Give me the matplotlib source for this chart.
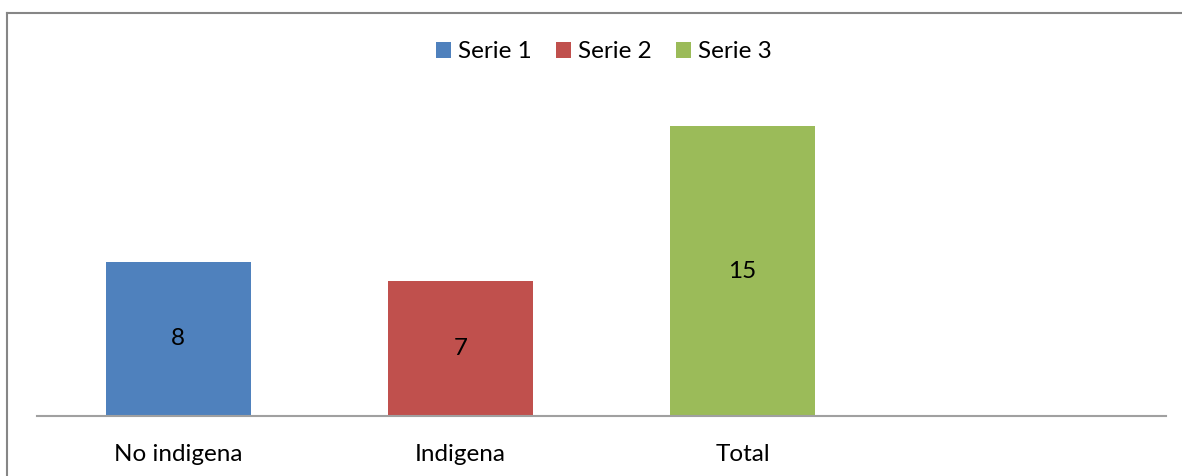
import matplotlib
matplotlib.use('Agg')
import matplotlib.pyplot as plt
from matplotlib.patches import Patch
from matplotlib.lines import Line2D

categories = ['No indigena', 'Indigena', 'Total', '']
series_names = ['Serie 1', 'Serie 2', 'Serie 3']
values = [8, 7, 15]
colors = ['#4f81bd', '#c0504d', '#9bbb59']

plt.rcParams['font.family'] = ['Lato', 'DejaVu Sans']
fs = 17.5

W, H = 1182, 476
fig = plt.figure(figsize=(W / 100, H / 100), dpi=100)
ax = fig.add_axes([37 / W, 60 / H, (1166 - 37) / W, 309 / H])

x = list(range(len(categories)))
for i, (v, c) in enumerate(zip(values, colors)):
    ax.bar(x[i], v, width=0.514, color=c)
    ax.text(x[i], v / 2, str(v), ha='center', va='center', fontsize=fs, color='black')

ax.set_xlim(-0.5, len(categories) - 0.5)
ax.set_ylim(0, 16)
ax.set_xticks(x)
ax.set_xticklabels(categories, fontsize=fs)
ax.tick_params(axis='x', length=0, pad=20)
ax.set_yticks([])
for s in ['top', 'right', 'left']:
    ax.spines[s].set_visible(False)
ax.spines['bottom'].set_color('#a0a0a0')
ax.spines['bottom'].set_linewidth(1.5)

handles = [Patch(facecolor=c, edgecolor='none') for c in colors]
fig.legend(handles, series_names, loc='center', bbox_to_anchor=(604 / W, 1 - 52 / H),
           ncol=3, frameon=False, fontsize=fs, handlelength=0.6, handleheight=0.6,
           handletextpad=0.3, columnspacing=1.0)

# outer chart frame (top and left visible)
fig.add_artist(Line2D([7 / W, 1.0], [1 - 12.5 / H, 1 - 12.5 / H], color='#868686', lw=1.5))
fig.add_artist(Line2D([7 / W, 7 / W], [0, 1 - 12.5 / H], color='#868686', lw=1.5))

fig.savefig('out.png', dpi=100)
